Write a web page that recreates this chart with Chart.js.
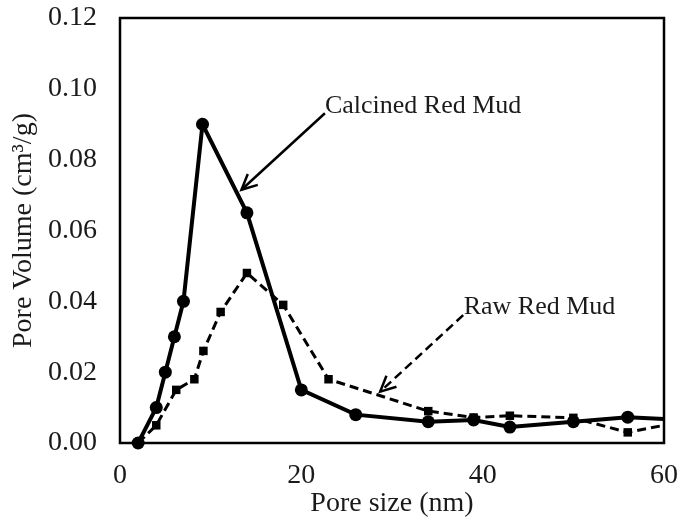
<!DOCTYPE html>
<html>
<head>
<meta charset="utf-8">
<script src="https://cdn.jsdelivr.net/npm/chart.js@4/dist/chart.umd.min.js"></script>
<style>
  html, body { margin: 0; padding: 0; background: #fff; }
  #wrap { width: 680px; height: 520px; }
</style>
</head>
<body>
<div id="wrap"><canvas id="poreChart"></canvas></div>
<script>
// pore size (nm) and pore volume (cm3/g)
const calcinedSize = [2, 4, 5, 6, 7, 9.1, 14, 20, 26, 34, 39, 43, 50, 56, 64];
const calcinedVolume = [0, 0.010, 0.020, 0.030, 0.040, 0.090, 0.065, 0.015, 0.008, 0.006, 0.0065, 0.0045, 0.006, 0.0073, 0.0062];

const rawSize = [2, 4, 6.2, 8.2, 9.2, 11.1, 14, 18, 23, 34, 39, 43, 50, 56, 64];
const rawVolume = [0, 0.005, 0.015, 0.018, 0.026, 0.037, 0.048, 0.039, 0.018, 0.009, 0.0072, 0.0077, 0.0071, 0.003, 0.007];

const xTicks = [0, 20, 40, 60];
const yTicks = [0, 0.02, 0.04, 0.06, 0.08, 0.10, 0.12];

const toPoints = (xs, ys) => xs.map((x, i) => ({ x: x, y: ys[i] }));

const FONT = 'Liberation Serif';

// labels with arrows, given in data units
const callouts = [
  { text: 'Calcined Red Mud', at: [22.6, 0.0933], from: [22.6, 0.0931], to: [13.4, 0.0715], dash: [] },
  { text: 'Raw Red Mud', at: [37.9, 0.0364], from: [37.85, 0.0361], to: [28.7, 0.0145], dash: [9, 5] }
];

const framePlugin = {
  id: 'frame',
  afterDatasetsDraw(chart) {
    const { ctx, chartArea: a, scales } = chart;
    ctx.save();
    ctx.strokeStyle = '#000';
    ctx.lineWidth = 2.5;
    ctx.strokeRect(a.left, a.top, a.right - a.left, a.bottom - a.top);

    callouts.forEach(c => {
      const x0 = scales.x.getPixelForValue(c.from[0]);
      const y0 = scales.y.getPixelForValue(c.from[1]);
      const x1 = scales.x.getPixelForValue(c.to[0]);
      const y1 = scales.y.getPixelForValue(c.to[1]);
      ctx.lineWidth = 2.5;
      ctx.setLineDash(c.dash);
      ctx.beginPath();
      ctx.moveTo(x0, y0);
      ctx.lineTo(x1, y1);
      ctx.stroke();
      ctx.setLineDash([]);
      const ang = Math.atan2(y1 - y0, x1 - x0);
      const len = 17;
      ctx.beginPath();
      ctx.moveTo(x1 - len * Math.cos(ang - 0.45), y1 - len * Math.sin(ang - 0.45));
      ctx.lineTo(x1, y1);
      ctx.lineTo(x1 - len * Math.cos(ang + 0.45), y1 - len * Math.sin(ang + 0.45));
      ctx.stroke();

      ctx.fillStyle = '#1a1a1a';
      ctx.font = '26px "' + FONT + '"';
      ctx.textAlign = 'left';
      ctx.textBaseline = 'alphabetic';
      ctx.fillText(c.text, scales.x.getPixelForValue(c.at[0]), scales.y.getPixelForValue(c.at[1]));
    });
    ctx.restore();
  }
};

const ctx = document.getElementById('poreChart');

new Chart(ctx, {
  type: 'scatter',
  data: {
    datasets: [{
      label: 'Raw Red Mud',
      data: toPoints(rawSize, rawVolume),
      showLine: true,
      borderColor: '#000',
      backgroundColor: '#000',
      borderWidth: 3,
      borderDash: [9, 5],
      pointStyle: 'rect',
      pointRadius: 6,
      pointBorderWidth: 0,
      clip: { left: 12, top: 12, right: 0, bottom: 12 }
    }, {
      label: 'Calcined Red Mud',
      data: toPoints(calcinedSize, calcinedVolume),
      showLine: true,
      borderColor: '#000',
      backgroundColor: '#000',
      borderWidth: 4,
      pointStyle: 'circle',
      pointRadius: 6.5,
      pointBorderWidth: 0,
      clip: { left: 12, top: 12, right: 0, bottom: 12 }
    }]
  },
  options: {
    responsive: true,
    maintainAspectRatio: false,
    animation: false,
    layout: { padding: { left: 0, top: 18, right: 16, bottom: 0 } },
    plugins: {
      legend: { display: false },
      tooltip: { enabled: false }
    },
    scales: {
      x: {
        type: 'linear',
        min: 0,
        max: 60,
        afterBuildTicks: (scale) => { scale.ticks = xTicks.map(v => ({ value: v })); },
        afterFit: (scale) => {
          scale.height = 77;
          scale.paddingLeft = 0;
          scale.paddingRight = 0;
        },
        grid: { display: false, drawTicks: false },
        border: { display: false },
        ticks: {
          padding: 16,
          color: '#1a1a1a',
          font: { family: FONT, size: 28 },
          maxRotation: 0
        },
        title: {
          display: true,
          text: 'Pore size (nm)',
          color: '#1a1a1a',
          font: { family: FONT, size: 28 },
          padding: { top: 0, bottom: 0 }
        }
      },
      y: {
        type: 'linear',
        min: 0,
        max: 0.12,
        afterBuildTicks: (scale) => { scale.ticks = yTicks.map(v => ({ value: v })); },
        afterFit: (scale) => {
          scale.width = 120;
          scale.paddingTop = 0;
          scale.paddingBottom = 0;
        },
        grid: { display: false, drawTicks: false },
        border: { display: false },
        ticks: {
          padding: 23,
          color: '#1a1a1a',
          font: { family: FONT, size: 28 },
          callback: (v) => v.toFixed(2)
        },
        title: {
          display: true,
          text: 'Pore Volume (cm³/g)',
          color: '#1a1a1a',
          font: { family: FONT, size: 28 },
          padding: { top: 7, bottom: 0 }
        }
      }
    }
  },
  plugins: [framePlugin]
});
</script>
</body>
</html>
